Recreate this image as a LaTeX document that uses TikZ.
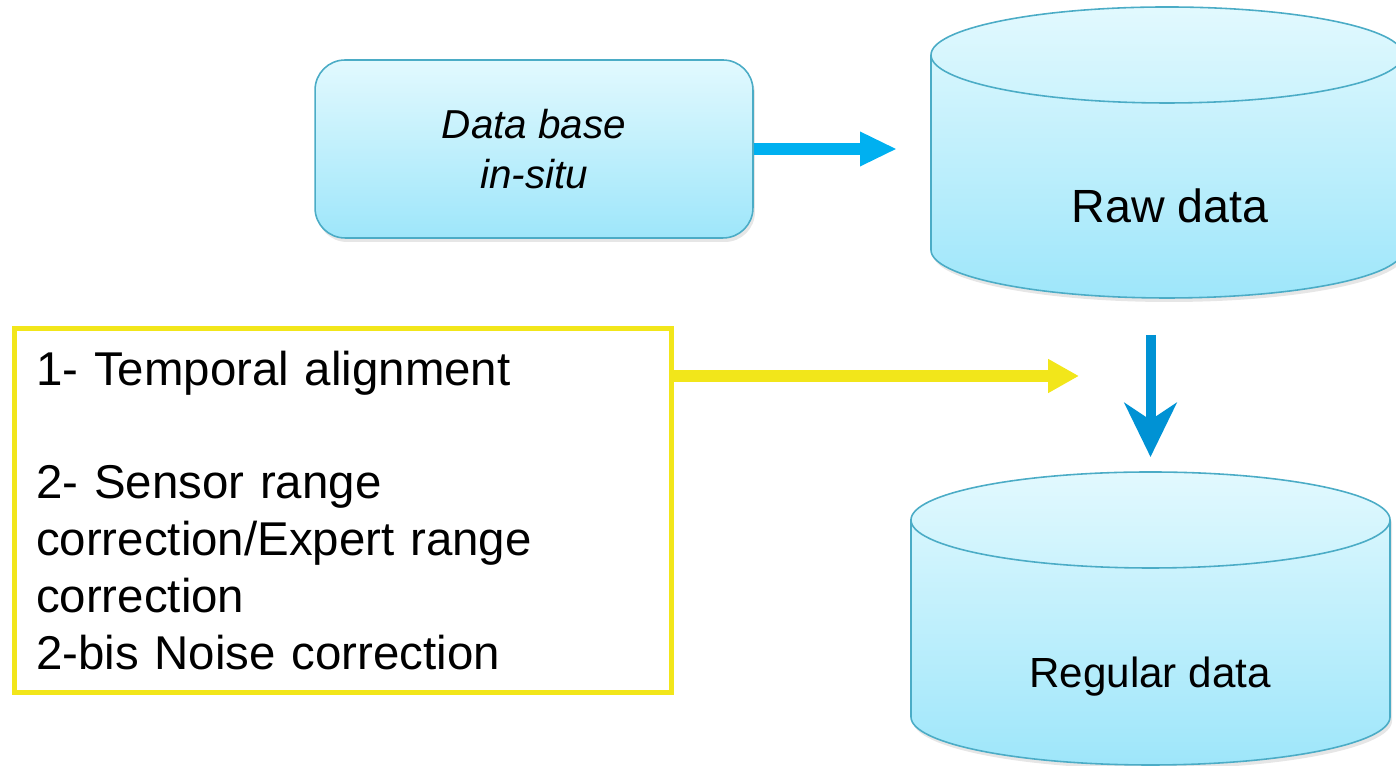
\documentclass[tikz,border=0pt]{standalone}
\usepackage{fontspec}
\setmainfont{Liberation Sans}
\usetikzlibrary{shapes.geometric, arrows.meta, positioning, calc, shadows}

\definecolor{boxtop}{RGB}{226,249,254}
\definecolor{boxbot}{RGB}{158,230,250}
\definecolor{boxline}{RGB}{75,172,198}
\definecolor{arrowblue}{RGB}{0,176,240}
\definecolor{darkblue}{RGB}{0,146,212}
\definecolor{stepyellow}{RGB}{242,230,26}

\begin{document}
\begin{tikzpicture}[
    x=0.02cm, y=0.02cm,
    source/.style={draw=boxline, line width=0.9pt, rectangle, rounded corners=0.6cm, top color=boxtop, bottom color=boxbot, minimum width=8.76cm, minimum height=3.56cm, align=center, font=\fontsize{23}{28.4}\selectfont\itshape, drop shadow={opacity=0.2, shadow xshift=0.04cm, shadow yshift=-0.08cm}},
    dbshape/.style={draw=boxline, line width=0.9pt, top color=boxtop, bottom color=boxbot, drop shadow={opacity=0.2, shadow xshift=0.04cm, shadow yshift=-0.08cm}},
    dbline/.style={draw=boxline, line width=0.9pt},
    dblabel/.style={anchor=base, inner sep=0pt},
    steps/.style={draw=stepyellow, line width=0.1cm, rectangle, minimum width=13.16cm, minimum height=7.3cm, inner xsep=0.44cm, text width=12.28cm, align=left, font=\fontsize{27}{32.4}\selectfont},
    arrow/.style={-{Triangle[length=0.74cm, width=0.64cm]}, line width=0.24cm, arrowblue},
    downarrow/.style={-{Stealth[length=1.08cm, width=1.04cm, inset=0.34cm]}, line width=0.2cm, darkblue},
    yarrow/.style={-{Triangle[length=0.62cm, width=0.64cm]}, line width=0.24cm, stepyellow},
]
\useasboundingbox (0,0) rectangle (1396,766);

% Source box
\node[source] (insitu) at (534,617) {Data base\\in-situ};

% Raw data cylinder
\path[dbshape] (931,711) -- (931,516) arc[start angle=180, end angle=360, x radius=236, y radius=48]
    -- (1403,711) arc[start angle=0, end angle=180, x radius=236, y radius=48] -- cycle;
\draw[dbline] (931,711) arc[start angle=180, end angle=360, x radius=236, y radius=48];
\node[dblabel, font=\fontsize{26.5}{30}\selectfont] (raw) at (1170,543) {Raw data};
\coordinate (rawbottom) at (1167,468);

% Regular data cylinder
\path[dbshape] (911,246) -- (911,49) arc[start angle=180, end angle=360, x radius=239.5, y radius=48]
    -- (1390,246) arc[start angle=0, end angle=180, x radius=239.5, y radius=48] -- cycle;
\draw[dbline] (911,246) arc[start angle=180, end angle=360, x radius=239.5, y radius=48];
\node[dblabel, font=\fontsize{24}{28}\selectfont] (regular) at (1150,78) {Regular data};
\coordinate (regtop) at (1150.5,293);

% Processing steps
\node[steps] (steps) at (343,255.5) {1- Temporal alignment\\[32.4pt]
2- Sensor range\\
correction/Expert range\\
correction\\
2-bis Noise correction};
\coordinate (joinpt) at (1079,390);

% Arrows
\draw[arrow, shorten >=0.68cm] (insitu.east) -- (insitu.east -| 931,0);
\draw[downarrow, shorten <=0.74cm, shorten >=0.32cm] (rawbottom -| regtop) -- (regtop);
\draw[yarrow] (steps.east |- joinpt) -- (joinpt);

\end{tikzpicture}
\end{document}
